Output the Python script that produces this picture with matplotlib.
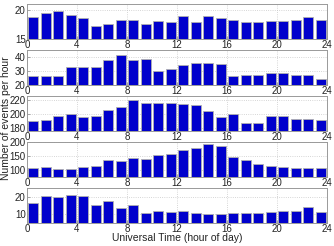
import numpy as np
import matplotlib
matplotlib.use('Agg')
import matplotlib.pyplot as plt

plt.rcParams['font.family'] = ['Liberation Sans', 'DejaVu Sans']

hours = np.arange(24) + 0.5

counts_1 = [18.7, 19.4, 19.8, 19.1, 18.6, 17.3, 17.6, 18.3, 18.2, 17.6, 18.1, 18.0,
            19.0, 17.9, 19.0, 18.6, 18.2, 17.9, 17.9, 18.1, 18.1, 18.2, 18.7, 18.2]
counts_2 = [26.4, 26.7, 26.7, 33.1, 32.9, 33.1, 38.1, 41.7, 37.6, 38.8, 30.0, 31.4,
            34.3, 36.0, 36.0, 34.8, 26.7, 27.4, 27.4, 28.3, 28.3, 27.4, 27.1, 24.0]
counts_3 = [190, 191, 197, 199, 195, 197, 205, 209, 220, 215, 215, 215,
            213, 212, 203, 195, 200, 187, 187, 197, 197, 192, 192, 191]
counts_4 = [106, 109, 105, 105, 112, 116, 134, 131, 143, 139, 154, 157,
            171, 177, 194, 186, 148, 135, 121, 113, 112, 108, 108, 106]
counts_5 = [16.5, 20.4, 19.6, 20.8, 20.2, 15.5, 17.5, 13.5, 15.1, 10.8, 12.0, 11.4,
            12.0, 10.8, 10.4, 10.0, 10.8, 10.6, 10.6, 11.2, 12.0, 12.0, 14.1, 11.4]

series = [counts_1, counts_2, counts_3, counts_4, counts_5]
ylims = [(15, 21), (20, 45), (175, 225), (75, 200), (5, 25)]
yticks = [[15, 20], [20, 30, 40], [180, 200, 220], [100, 150, 200], [10, 20]]
xticks = [0, 4, 8, 12, 16, 20, 24]

fig = plt.figure(figsize=(3.34, 2.46), dpi=100)

W, H = 334.0, 246.0
left, right = 27, 327
tops = [4, 50, 96, 142, 188]
height = 35

for i, vals in enumerate(series):
    top = tops[i]
    ax = fig.add_axes([left / W, 1 - (top + height) / H, (right - left) / W, height / H])
    ax.bar(hours, vals, width=0.8, color='#0000cc', edgecolor='#b0b0b0', linewidth=0.6, zorder=3)
    ax.set_xlim(0, 24)
    ax.set_ylim(*ylims[i])
    ax.set_xticks(xticks)
    ax.set_yticks(yticks[i])
    ax.grid(True, linestyle=':', color='#c8c8c8', linewidth=0.6, zorder=0)
    ax.tick_params(labelsize=7, length=2, width=0.5, direction='in', pad=1,
                   colors='#888888', labelcolor='#222222')
    for s in ax.spines.values():
        s.set_color('#999999')
        s.set_linewidth(0.7)

fig.text(6 / W, 1 - 118 / H, 'Number of events per hour', rotation=90,
         ha='center', va='center', fontsize=7.5, color='#222222')
fig.text(177 / W, 1 - 238 / H, 'Universal Time (hour of day)',
         ha='center', va='center', fontsize=7.5, color='#222222')

fig.savefig('out.png', dpi=100)
